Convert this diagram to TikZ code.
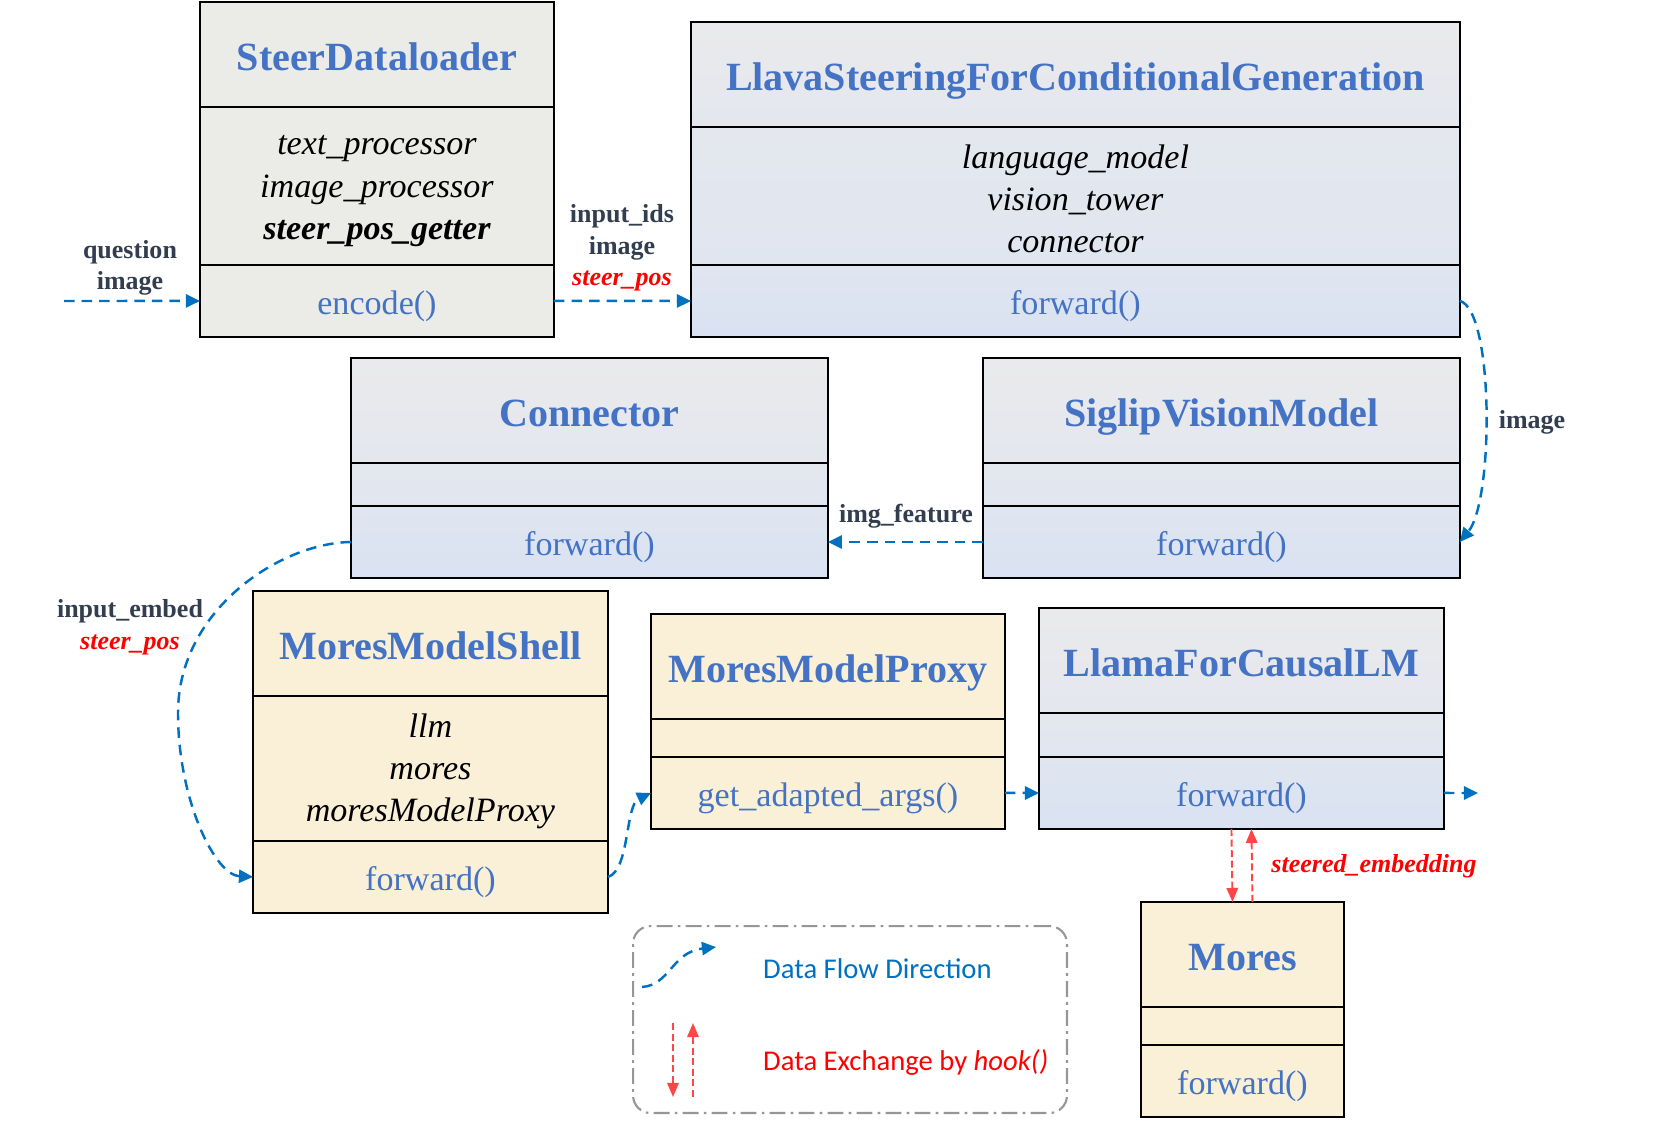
\documentclass[tikz,border=0pt]{standalone}
\usepackage{fontspec}
\setmainfont{Liberation Serif}[ItalicFont={Liberation Serif Italic},BoldFont={Liberation Serif Bold},BoldItalicFont={Liberation Serif Bold Italic}]
\newfontfamily\legendfont{Carlito}
\usetikzlibrary{positioning,arrows.meta}
\definecolor{TitleBlue}{RGB}{68,114,196}
\definecolor{FlowBlue}{RGB}{0,112,192}
\definecolor{LabelSlate}{RGB}{50,62,79}
\definecolor{HookRed}{RGB}{255,0,0}
\definecolor{DashRed}{RGB}{255,70,70}
\definecolor{GraniteGray}{RGB}{235,235,231}
\definecolor{SteelA}{RGB}{234,234,236}
\definecolor{SteelB}{RGB}{228,231,238}
\definecolor{SteelC}{RGB}{224,230,240}
\definecolor{SteelD}{RGB}{217,226,242}
\definecolor{ParchmentTan}{RGB}{250,240,216}
\definecolor{LegendGray}{RGB}{150,150,150}
\newcommand\attrgap{\rule{0pt}{16.8pt}}

\begin{document}
\begin{tikzpicture}[x=0.02cm,y=-0.02cm,
    box/.style={draw,line width=1.2pt,inner sep=0pt,outer sep=0pt},
    titlebox/.style={box,minimum height=2.1cm,text height=18.4pt,text depth=0pt,text=TitleBlue,font=\bfseries\fontsize{22.8}{26}\selectfont},
    attrbox/.style={box,align=center,font=\itshape\fontsize{19.4}{24}\selectfont},
    methbox/.style={box,minimum height=1.44cm,text height=15pt,text depth=0pt,text=TitleBlue,font=\fontsize{19.4}{24}\selectfont},
    granite/.style={fill=GraniteGray},
    parchment/.style={fill=ParchmentTan},
    steeltop/.style={top color=SteelA,bottom color=SteelB},
    steelmid/.style={top color=SteelB,bottom color=SteelC},
    steelbot/.style={top color=SteelC,bottom color=SteelD},
    flowarrow/.style={FlowBlue,line width=1.4pt,dash pattern=on 6pt off 4pt,-{Triangle[length=8pt,width=7.5pt]}},
    xchg/.style={DashRed,line width=1.1pt,dash pattern=on 4pt off 2pt,-{Triangle[length=8pt,width=6.5pt]}},
    edgelbl/.style={text=LabelSlate,align=center,font=\bfseries\fontsize{14.8}{18}\selectfont},
    legendtxt/.style={anchor=west,font=\legendfont\fontsize{16.3}{19}\selectfont}]
\useasboundingbox (0,0) rectangle (1661,1123);

\node[titlebox,granite,minimum width=7.08cm,anchor=north west] (sdl-t) at (200,2) {SteerDataloader};
\node[attrbox,granite,minimum width=7.08cm,minimum height=3.16cm,below=0pt of sdl-t] (sdl-a) {\attrgap text\_processor\\image\_processor\\\textbf{steer\_pos\_getter}};
\node[methbox,granite,minimum width=7.08cm,below=0pt of sdl-a] (sdl-m) {encode()};

\node[titlebox,steeltop,minimum width=15.38cm,anchor=north west] (llava-t) at (691,22) {LlavaSteeringForConditionalGeneration};
\node[attrbox,steelmid,minimum width=15.38cm,minimum height=2.76cm,below=0pt of llava-t] (llava-a) {\attrgap language\_model\\vision\_tower\\connector};
\node[methbox,steelbot,minimum width=15.38cm,below=0pt of llava-a] (llava-m) {forward()};

\node[titlebox,steeltop,minimum width=9.54cm,anchor=north west] (con-t) at (351,358) {Connector};
\node[attrbox,steelmid,minimum width=9.54cm,minimum height=0.86cm,below=0pt of con-t] (con-a) {};
\node[methbox,steelbot,minimum width=9.54cm,below=0pt of con-a] (con-m) {forward()};

\node[titlebox,steeltop,minimum width=9.54cm,anchor=north west] (sig-t) at (983,358) {SiglipVisionModel};
\node[attrbox,steelmid,minimum width=9.54cm,minimum height=0.86cm,below=0pt of sig-t] (sig-a) {};
\node[methbox,steelbot,minimum width=9.54cm,below=0pt of sig-a] (sig-m) {forward()};

\node[titlebox,parchment,minimum width=7.1cm,anchor=north west] (shell-t) at (253,591) {MoresModelShell};
\node[attrbox,parchment,minimum width=7.1cm,minimum height=2.9cm,below=0pt of shell-t] (shell-a) {\attrgap llm\\mores\\moresModelProxy};
\node[methbox,parchment,minimum width=7.1cm,below=0pt of shell-a] (shell-m) {forward()};

\node[titlebox,parchment,minimum width=7.08cm,anchor=north west] (proxy-t) at (651,614) {MoresModelProxy};
\node[attrbox,parchment,minimum width=7.08cm,minimum height=0.76cm,below=0pt of proxy-t] (proxy-a) {};
\node[methbox,parchment,minimum width=7.08cm,below=0pt of proxy-a] (proxy-m) {get\_adapted\_args()};

\node[titlebox,steeltop,minimum width=8.1cm,anchor=north west] (llama-t) at (1039,608) {LlamaForCausalLM};
\node[attrbox,steelmid,minimum width=8.1cm,minimum height=0.88cm,below=0pt of llama-t] (llama-a) {};
\node[methbox,steelbot,minimum width=8.1cm,below=0pt of llama-a] (llama-m) {forward()};

\node[titlebox,parchment,minimum width=4.06cm,anchor=north west] (mores-t) at (1141,902) {Mores};
\node[attrbox,parchment,minimum width=4.06cm,minimum height=0.76cm,below=0pt of mores-t] (mores-a) {};
\node[methbox,parchment,minimum width=4.06cm,below=0pt of mores-a] (mores-m) {forward()};

\coordinate (qin) at (64,301);
\coordinate (lmout) at (1478,793);
\draw[flowarrow] (qin) -- (sdl-m.west);
\draw[flowarrow] (sdl-m.east) -- (llava-m.west);
\draw[flowarrow] (llava-m.east) .. controls (1494,310) and (1494,500) .. (sig-m.east);
\draw[flowarrow] (sig-m.west) -- (con-m.east);
\draw[flowarrow] (con-m.west) .. controls (280,543) and (178,610) .. (178,713) .. controls (178,800) and (215,875) .. (shell-m.west);
\draw[flowarrow] (shell-m.east) .. controls (630,870) and (625,805) .. (proxy-m.west);
\draw[flowarrow] (proxy-m.east) -- (llama-m.west);
\draw[flowarrow] (llama-m.east) -- (lmout);
\draw[xchg] ([xshift=-0.2cm]llama-m.south) -- ([xshift=-0.2cm]mores-t.north);
\draw[xchg] ([xshift=0.2cm]mores-t.north) -- ([xshift=0.2cm]llama-m.south);

\node[edgelbl] (lbl-q) at (130,268) {question\\image};
\node[edgelbl] (lbl-ids) at (622,248) {input\_ids\\image\\{\color{HookRed}\itshape steer\_pos}};
\node[edgelbl] (lbl-img) at (1532,422) {image};
\node[edgelbl] (lbl-feat) at (906,516) {img\_feature};
\node[edgelbl] (lbl-emb) at (130,627) {input\_embed\\{\color{HookRed}\itshape steer\_pos}};
\node[edgelbl,text=HookRed,font=\bfseries\itshape\fontsize{14.8}{18}\selectfont] (lbl-steer) at (1374,866) {steered\_embedding};

\node[draw=LegendGray,line width=1.2pt,dash pattern=on 9pt off 3pt on 1.5pt off 3pt,rounded corners=10pt,minimum width=8.68cm,minimum height=3.74cm,anchor=north west] (legend) at (632,925) {};
\coordinate (lg-a) at (642,987);
\coordinate (lg-b) at (716,947);
\draw[flowarrow] (lg-a) .. controls (670,985) and (672,952) .. (lg-b);
\coordinate (lg-c) at (673,1023);
\coordinate (lg-d) at (673,1097);
\coordinate (lg-e) at (693,1097);
\coordinate (lg-f) at (693,1023);
\draw[xchg] (lg-c) -- (lg-d);
\draw[xchg] (lg-e) -- (lg-f);
\node[legendtxt,text=FlowBlue] (lg-flow) at (757,969) {Data Flow Direction};
\node[legendtxt,text=HookRed] (lg-hook) at (757,1062) {Data Exchange by \textit{hook()}};
\end{tikzpicture}
\end{document}
